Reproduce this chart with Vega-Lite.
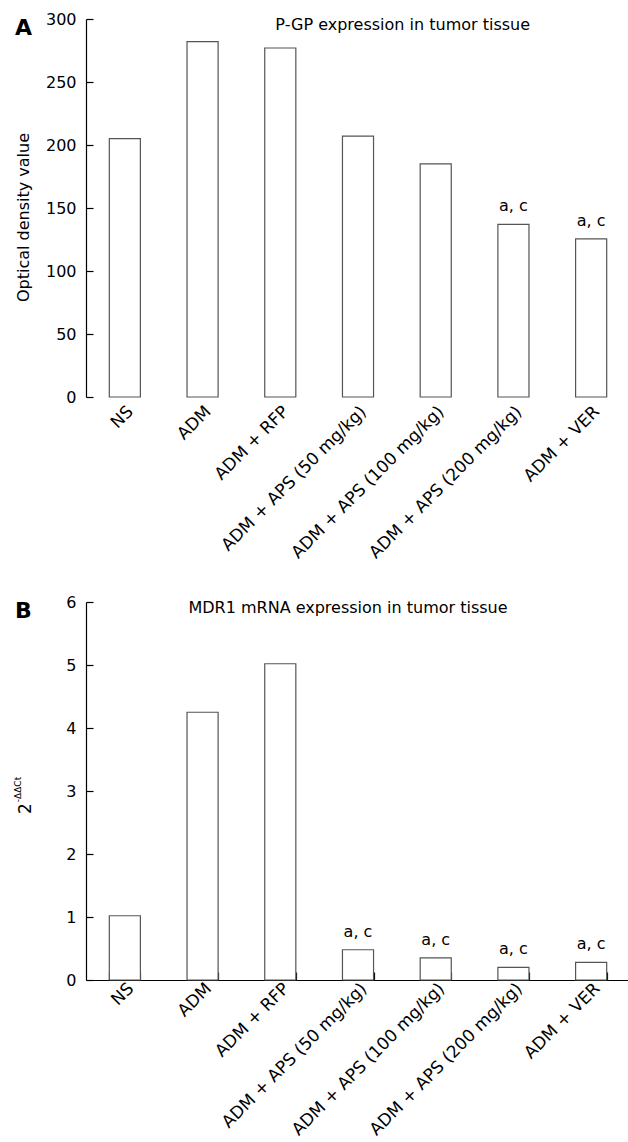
{
  "$schema": "https://vega.github.io/schema/vega-lite/v6.json",
  "padding": {"left": 13, "top": 11, "right": 0, "bottom": 0},
  "spacing": 33,
  "config": {
    "font": "DejaVu Sans",
    "view": {"stroke": null},
    "axis": {
      "labelFont": "DejaVu Sans",
      "titleFont": "DejaVu Sans",
      "labelFontSize": 16,
      "titleFontSize": 16,
      "labelColor": "black",
      "titleColor": "black",
      "titleFontWeight": "normal",
      "domainColor": "black",
      "tickColor": "black",
      "domainWidth": 1.2,
      "tickWidth": 1.2,
      "labelLimit": 0,
      "grid": false
    },
    "title": {"font": "DejaVu Sans", "color": "black"}
  },
  "vconcat": [
    {
      "width": 544,
      "height": 378,
      "title": {"text": "A", "anchor": "start", "frame": "group", "dx": -71, "offset": -29, "fontSize": 22, "fontWeight": "bold"},
      "data": {"values": [
        {"group": "NS", "value": 205},
        {"group": "ADM", "value": 282},
        {"group": "ADM + RFP", "value": 277},
        {"group": "ADM + APS (50 mg/kg)", "value": 207},
        {"group": "ADM + APS (100 mg/kg)", "value": 185},
        {"group": "ADM + APS (200 mg/kg)", "value": 137, "sig": "a, c"},
        {"group": "ADM + VER", "value": 125.5, "sig": "a, c"}
      ]},
      "encoding": {
        "x": {"field": "group", "type": "nominal", "sort": null,
          "scale": {"paddingInner": 0.6, "paddingOuter": 0.3},
          "axis": {"title": null, "labelAngle": -45, "domain": false, "ticks": false, "labelPadding": 6, "labelFontSize": 17}}
      },
      "layer": [
        {"mark": {"type": "bar", "fill": "white", "stroke": "#555555", "strokeWidth": 1.2},
          "encoding": {"y": {"field": "value", "type": "quantitative", "scale": {"domain": [0, 300]},
            "axis": {"title": "Optical density value", "values": [0, 50, 100, 150, 200, 250, 300], "tickSize": -7, "labelPadding": 17, "titleX": -55, "titleY": 198}}}},
        {"transform": [{"filter": "datum.sig"}],
          "mark": {"type": "text", "baseline": "alphabetic", "dy": -13, "fontSize": 16, "color": "black"},
          "encoding": {"y": {"field": "value", "type": "quantitative", "axis": null}, "text": {"field": "sig"}}},
        {"data": {"values": [{"t": "P-GP expression in tumor tissue"}]},
          "mark": {"type": "text", "baseline": "top", "dy": -2, "dx": -33, "fontSize": 16, "color": "black"},
          "encoding": {"x": {"datum": "ADM + APS (100 mg/kg)"}, "y": {"datum": 300, "axis": null}, "text": {"field": "t"}}}
      ],
      "resolve": {"axis": {"y": "independent"}}
    },
    {
      "width": 544,
      "height": 378,
      "title": {"text": "B", "anchor": "start", "frame": "group", "dx": -71, "offset": -29, "fontSize": 22, "fontWeight": "bold"},
      "data": {"values": [
        {"group": "NS", "value": 1.02},
        {"group": "ADM", "value": 4.25},
        {"group": "ADM + RFP", "value": 5.02},
        {"group": "ADM + APS (50 mg/kg)", "value": 0.48, "sig": "a, c"},
        {"group": "ADM + APS (100 mg/kg)", "value": 0.35, "sig": "a, c"},
        {"group": "ADM + APS (200 mg/kg)", "value": 0.2, "sig": "a, c"},
        {"group": "ADM + VER", "value": 0.28, "sig": "a, c"}
      ]},
      "encoding": {
        "x": {"field": "group", "type": "nominal", "sort": null,
          "scale": {"paddingInner": 0.6, "paddingOuter": 0.3},
          "axis": {"title": null, "labelAngle": -45, "domain": true, "ticks": true, "tickBand": "extent", "tickSize": -8, "labelPadding": 8, "labelFontSize": 17}}
      },
      "layer": [
        {"mark": {"type": "bar", "fill": "white", "stroke": "#555555", "strokeWidth": 1.2},
          "encoding": {"y": {"field": "value", "type": "quantitative", "scale": {"domain": [0, 6]},
            "axis": {"title": "2", "values": [0, 1, 2, 3, 4, 5, 6], "tickSize": -7, "labelPadding": 17, "titleX": -52, "titleY": 206, "titleFontSize": 17}}}},
        {"transform": [{"filter": "datum.sig"}],
          "mark": {"type": "text", "baseline": "alphabetic", "dy": -13, "fontSize": 16, "color": "black"},
          "encoding": {"y": {"field": "value", "type": "quantitative",
            "axis": {"orient": "left", "title": "-ΔΔCt", "titleFontSize": 9, "labels": false, "ticks": false, "domain": false, "titleX": -64, "titleY": 187}},
            "text": {"field": "sig"}}},
        {"data": {"values": [{"t": "MDR1 mRNA expression in tumor tissue"}]},
          "mark": {"type": "text", "baseline": "top", "dy": -2, "dx": -10, "fontSize": 16, "color": "black"},
          "encoding": {"x": {"datum": "ADM + APS (50 mg/kg)"}, "y": {"datum": 6, "axis": null}, "text": {"field": "t"}}}
      ],
      "resolve": {"axis": {"y": "independent"}}
    }
  ]
}
